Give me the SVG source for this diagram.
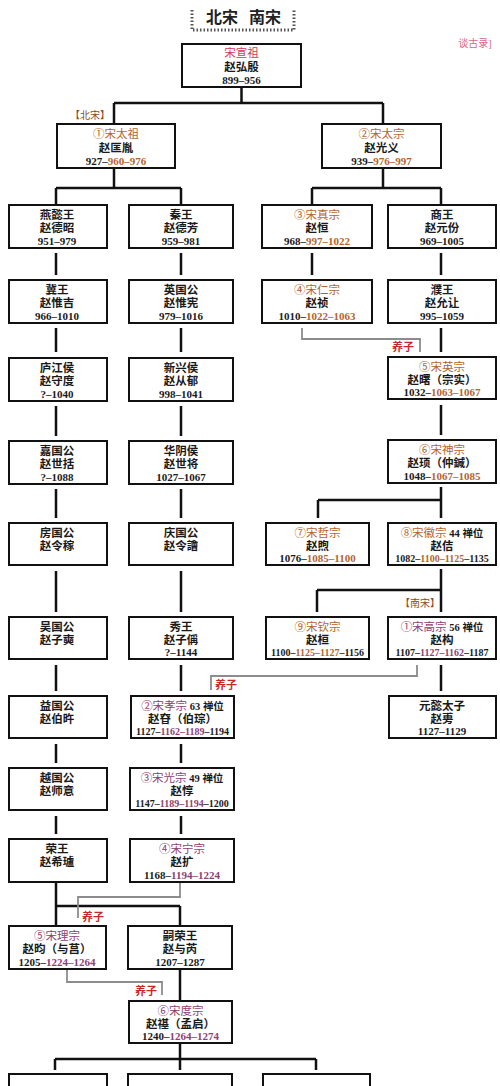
<svg xmlns="http://www.w3.org/2000/svg" width="500" height="1086" viewBox="0 0 500 1086">
<style>
.bg{fill:#fff}
.box{fill:#fff;stroke:#111;stroke-width:2}
.ln{stroke:#111;stroke-width:2.5;fill:none}
.ad{stroke:#8c8c8c;stroke-width:1.8;fill:none}
text{font-family:"Liberation Serif","Noto Sans CJK SC",serif;text-anchor:middle;fill:#1a1a1a}
.n{font-size:11.5px;font-weight:bold}
.d{font-size:11px;font-weight:bold}
.dl{font-size:10px;font-weight:bold}
.e{font-size:11.5px}
.ns{fill:#b5642e}
.ss{fill:#8e3f74}
.rd{fill:#d23a55}
.ad-t{font-size:11px;fill:#c8282a;font-weight:bold}
.era{font-size:10px;fill:#8b4a1e}
.ttl{font-size:16px;font-weight:bold;fill:#222}
.dots{stroke:#555;stroke-width:3;stroke-dasharray:1.5 2;fill:none}
</style>
<rect class="bg" x="0" y="0" width="500" height="1086"/>

<g id="title">
<path class="dots" d="M192,10 V30 H294 V10"/>
<text class="ttl" x="222" y="23">北宋</text>
<text class="ttl" x="265" y="23">南宋</text>
</g>
<text id="watermark" x="475" y="47" style="font-size:10px;fill:#d46a88">谈古录]</text>

<g id="connectors">
<path class="ln" d="M241.5,87 V103 M114,103 H383 M114,103 V124 M383,103 V124"/>
<path class="ln" d="M114,168 V188 M56,188 H181 M56,188 V205 M181,188 V205"/>
<path class="ln" d="M383,168 V188 M312,188 H441 M312,188 V205 M441,188 V205"/>
<path class="ln" d="M56,253 V275 M56,328 V352 M56,406 V436 M56,489 V518 M56,571 V612 M56,665 V691 M56,744 V763 M56,816 V834"/>
<path class="ln" d="M181,253 V275 M181,328 V352 M181,406 V436 M181,489 V518 M181,571 V612 M181,665 V691 M181,744 V763 M181,816 V834"/>
<path class="ln" d="M312,253 V275"/>
<path class="ln" d="M441,253 V275 M441,328 V352 M441,405 V435"/>
<path class="ln" d="M441,487 V518 M318,500 H441 M318,500 V518"/>
<path class="ln" d="M441,569 V612 M317,590 H441 M317,590 V612"/>
<path class="ln" d="M441,665 V691"/>
<path class="ln" d="M56,882 V926 M56,906 H180 M180,906 V926"/>
<path class="ln" d="M180,969 V1001"/>
<path class="ln" d="M180,1043 V1070 M55,1059 H316 M55,1059 V1070 M316,1059 V1070"/>
<path class="ad" d="M302,328 V339 H420 V352"/>
<path class="ad" d="M417,665 V676 H211 V690"/>
<path class="ad" d="M180,883 V897 H78 V918"/>
<path class="ad" d="M67,970 V982 H162 V995"/>
<text class="ad-t" x="403" y="351">养子</text>
<text class="ad-t" x="226" y="689">养子</text>
<text class="ad-t" x="93" y="921">养子</text>
<text class="ad-t" x="146" y="995">养子</text>
<text class="era" x="90" y="119">【北宋】</text>
<text class="era" x="420" y="607">【南宋】</text>
</g>

<g id="n-root"><rect class="box" x="182" y="44" width="119" height="43"/>
<text class="e rd" x="241.5" y="57">宋宣祖</text><text class="n" x="241.5" y="71">赵弘殷</text><text class="d" x="241.5" y="84">899–956</text></g>

<g id="n-taizu"><rect class="box" x="57" y="124" width="118" height="44"/>
<text class="e ns" x="116" y="138">①宋太祖</text><text class="n" x="116" y="152">赵匡胤</text><text class="d" x="116" y="165">927–<tspan class="ns">960–976</tspan></text></g>

<g id="n-taizong"><rect class="box" x="322" y="124" width="119" height="44"/>
<text class="e ns" x="381.5" y="138">②宋太宗</text><text class="n" x="381.5" y="152">赵光义</text><text class="d" x="381.5" y="165">939–<tspan class="ns">976–997</tspan></text></g>

<g id="n-yanyi"><rect class="box" x="9" y="205" width="98" height="43"/>
<text class="n" x="57" y="219">燕懿王</text><text class="n" x="57" y="232">赵德昭</text><text class="d" x="57" y="245">951–979</text></g>
<g id="n-qin"><rect class="box" x="129" y="205" width="104" height="43"/>
<text class="n" x="181" y="219">秦王</text><text class="n" x="181" y="232">赵德芳</text><text class="d" x="181" y="245">959–981</text></g>
<g id="n-zhenzong"><rect class="box" x="262" y="205" width="110" height="43"/>
<text class="e ns" x="317" y="219">③宋真宗</text><text class="n" x="317" y="232">赵恒</text><text class="d" x="317" y="245">968–<tspan class="ns">997–1022</tspan></text></g>
<g id="n-shang"><rect class="box" x="388" y="205" width="108" height="43"/>
<text class="n" x="442" y="219">商王</text><text class="n" x="442" y="232">赵元份</text><text class="d" x="442" y="245">969–1005</text></g>

<g id="n-ji"><rect class="box" x="9" y="280" width="98" height="43"/>
<text class="n" x="57" y="294">冀王</text><text class="n" x="57" y="307">赵惟吉</text><text class="d" x="57" y="320">966–1010</text></g>
<g id="n-yingguo"><rect class="box" x="129" y="280" width="104" height="43"/>
<text class="n" x="181" y="294">英国公</text><text class="n" x="181" y="307">赵惟宪</text><text class="d" x="181" y="320">979–1016</text></g>
<g id="n-renzong"><rect class="box" x="262" y="280" width="110" height="43"/>
<text class="e ns" x="317" y="294">④宋仁宗</text><text class="n" x="317" y="307">赵祯</text><text class="d" x="317" y="320">1010–<tspan class="ns">1022–1063</tspan></text></g>
<g id="n-pu"><rect class="box" x="388" y="280" width="108" height="43"/>
<text class="n" x="442" y="294">濮王</text><text class="n" x="442" y="307">赵允让</text><text class="d" x="442" y="320">995–1059</text></g>

<g id="n-lujiang"><rect class="box" x="9" y="358" width="98" height="43"/>
<text class="n" x="57" y="372">庐江侯</text><text class="n" x="57" y="385">赵守度</text><text class="d" x="57" y="398">?–1040</text></g>
<g id="n-xinxing"><rect class="box" x="129" y="358" width="104" height="43"/>
<text class="n" x="181" y="372">新兴侯</text><text class="n" x="181" y="385">赵从郁</text><text class="d" x="181" y="398">998–1041</text></g>
<g id="n-yingzong"><rect class="box" x="388" y="357" width="108" height="42"/>
<text class="e ns" x="442" y="371">⑤宋英宗</text><text class="n" x="442" y="384">赵曙（宗实）</text><text class="d" x="442" y="396">1032–<tspan class="ns">1063–1067</tspan></text></g>

<g id="n-jia"><rect class="box" x="9" y="441" width="98" height="43"/>
<text class="n" x="57" y="455">嘉国公</text><text class="n" x="57" y="468">赵世括</text><text class="d" x="57" y="481">?–1088</text></g>
<g id="n-huayin"><rect class="box" x="129" y="441" width="104" height="43"/>
<text class="n" x="181" y="455">华阴侯</text><text class="n" x="181" y="468">赵世将</text><text class="d" x="181" y="481">1027–1067</text></g>
<g id="n-shenzong"><rect class="box" x="388" y="440" width="108" height="43"/>
<text class="e ns" x="442" y="454">⑥宋神宗</text><text class="n" x="442" y="467">赵顼（仲鍼）</text><text class="d" x="442" y="480">1048–<tspan class="ns">1067–1085</tspan></text></g>

<g id="n-fang"><rect class="box" x="9" y="523" width="98" height="42"/>
<text class="n" x="57" y="537">房国公</text><text class="n" x="57" y="550">赵令稼</text></g>
<g id="n-qingguo"><rect class="box" x="129" y="523" width="104" height="42"/>
<text class="n" x="181" y="537">庆国公</text><text class="n" x="181" y="550">赵令譮</text></g>
<g id="n-zhezong"><rect class="box" x="266" y="523" width="103" height="42"/>
<text class="e ns" x="317.5" y="537">⑦宋哲宗</text><text class="n" x="317.5" y="550">赵煦</text><text class="d" x="317.5" y="562">1076–<tspan class="ns">1085–1100</tspan></text></g>
<g id="n-huizong"><rect class="box" x="388" y="523" width="108" height="42"/>
<text class="e" x="442" y="537"><tspan class="ns">⑧宋徽宗</tspan><tspan style="font-weight:bold;font-size:10.5px"> 44 禅位</tspan></text><text class="n" x="442" y="550">赵佶</text><text class="dl" x="442" y="562">1082–<tspan class="ns">1100–1125</tspan>–1135</text></g>

<g id="n-wu"><rect class="box" x="9" y="617" width="98" height="42"/>
<text class="n" x="57" y="631">吴国公</text><text class="n" x="57" y="644">赵子奭</text></g>
<g id="n-xiu"><rect class="box" x="129" y="617" width="104" height="42"/>
<text class="n" x="181" y="631">秀王</text><text class="n" x="181" y="644">赵子偁</text><text class="d" x="181" y="656">?–1144</text></g>
<g id="n-qinzong"><rect class="box" x="266" y="617" width="103" height="42"/>
<text class="e ns" x="317.5" y="631">⑨宋钦宗</text><text class="n" x="317.5" y="644">赵桓</text><text class="dl" x="317.5" y="656">1100–<tspan class="ns">1125–1127</tspan>–1156</text></g>
<g id="n-gaozong"><rect class="box" x="388" y="617" width="108" height="42"/>
<text class="e" x="442" y="631"><tspan class="ss">①宋高宗</tspan><tspan style="font-weight:bold;font-size:10.5px"> 56 禅位</tspan></text><text class="n" x="442" y="644">赵构</text><text class="dl" x="442" y="656">1107–<tspan class="ss">1127–1162</tspan>–1187</text></g>

<g id="n-yiguo"><rect class="box" x="9" y="696" width="98" height="42"/>
<text class="n" x="57" y="710">益国公</text><text class="n" x="57" y="723">赵伯旿</text></g>
<g id="n-xiaozong"><rect class="box" x="131" y="696" width="103" height="42"/>
<text class="e" x="182.5" y="710"><tspan class="ss">②宋孝宗</tspan><tspan style="font-weight:bold;font-size:10.5px"> 63 禅位</tspan></text><text class="n" x="182.5" y="723">赵昚（伯琮）</text><text class="dl" x="182.5" y="735">1127–<tspan class="ss">1162–1189</tspan>–1194</text></g>
<g id="n-yuanyi"><rect class="box" x="389" y="696" width="107" height="42"/>
<text class="n" x="442" y="710">元懿太子</text><text class="n" x="442" y="723">赵旉</text><text class="d" x="442" y="735">1127–1129</text></g>

<g id="n-yueguo"><rect class="box" x="9" y="768" width="98" height="42"/>
<text class="n" x="57" y="782">越国公</text><text class="n" x="57" y="795">赵师意</text></g>
<g id="n-guangzong"><rect class="box" x="130" y="768" width="104" height="42"/>
<text class="e" x="182" y="782"><tspan class="ss">③宋光宗</tspan><tspan style="font-weight:bold;font-size:10.5px"> 49 禅位</tspan></text><text class="n" x="182" y="795">赵惇</text><text class="dl" x="182" y="807">1147–<tspan class="ss">1189–1194</tspan>–1200</text></g>

<g id="n-rong"><rect class="box" x="9" y="839" width="98" height="43"/>
<text class="n" x="57" y="853">荣王</text><text class="n" x="57" y="866">赵希瓐</text></g>
<g id="n-ningzong"><rect class="box" x="130" y="839" width="104" height="43"/>
<text class="e ss" x="182" y="853">④宋宁宗</text><text class="n" x="182" y="866">赵扩</text><text class="d" x="182" y="879">1168–<tspan class="ss">1194–1224</tspan></text></g>

<g id="n-lizong"><rect class="box" x="9" y="926" width="97" height="43"/>
<text class="e ss" x="57" y="940">⑤宋理宗</text><text class="n" x="57" y="953">赵昀（与莒）</text><text class="d" x="57" y="966">1205–<tspan class="ss">1224–1264</tspan></text></g>
<g id="n-sirong"><rect class="box" x="128" y="926" width="104" height="43"/>
<text class="n" x="180" y="940">嗣荣王</text><text class="n" x="180" y="953">赵与芮</text><text class="d" x="180" y="966">1207–1287</text></g>

<g id="n-duzong"><rect class="box" x="129" y="1001" width="103" height="42"/>
<text class="e ss" x="180.5" y="1015">⑥宋度宗</text><text class="n" x="180.5" y="1028">赵禥（孟启）</text><text class="d" x="180.5" y="1040">1240–<tspan class="ss">1264–1274</tspan></text></g>

<g id="n-bottom1"><rect class="box" x="9" y="1074" width="98" height="30"/></g>
<g id="n-bottom2"><rect class="box" x="128" y="1074" width="104" height="30"/></g>
<g id="n-bottom3"><rect class="box" x="263" y="1074" width="107" height="30"/></g>
</svg>
